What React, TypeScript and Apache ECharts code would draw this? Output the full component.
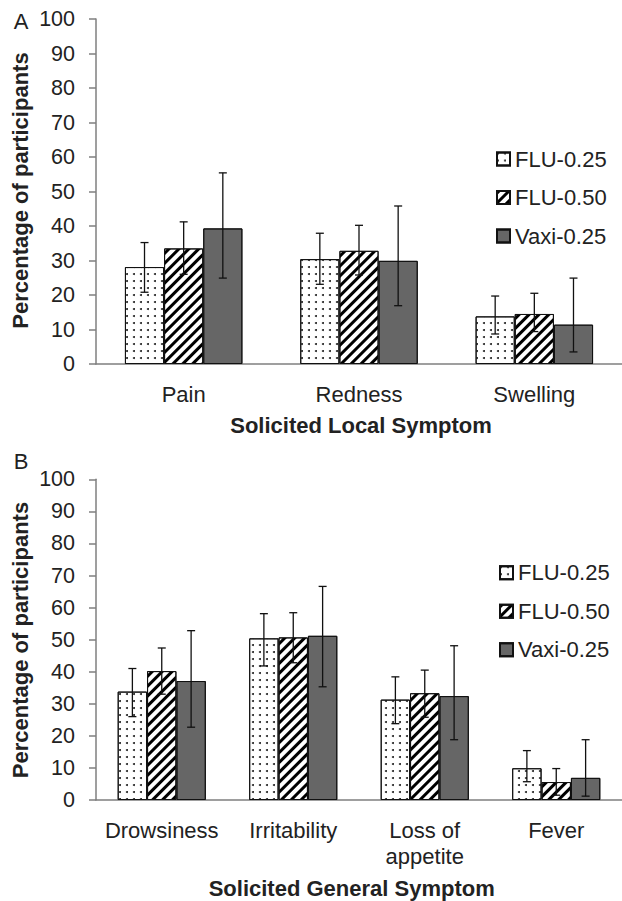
import React, { useEffect, useRef } from "react";
import * as echarts from "echarts";

const seriesNames = ["FLU-0.25", "FLU-0.50", "Vaxi-0.25"];

const categoriesA = ["Pain", "Redness", "Swelling"];
const flu025A = [28.1, 30.4, 13.8];
const flu050A = [33.5, 32.8, 14.5];
const vaxiA = [39.3, 29.9, 11.4];
const flu025ALow = [20.8, 23.1, 8.7];
const flu025AHigh = [35.2, 37.9, 19.7];
const flu050ALow = [26.0, 25.8, 9.4];
const flu050AHigh = [41.2, 40.2, 20.5];
const vaxiALow = [24.9, 16.9, 3.5];
const vaxiAHigh = [55.4, 45.8, 24.9];

const categoriesB = ["Drowsiness", "Irritability", "Loss of\nappetite", "Fever"];
const flu025B = [33.8, 50.4, 31.3, 9.9];
const flu050B = [40.2, 50.7, 33.3, 5.6];
const vaxiB = [37.1, 51.2, 32.4, 6.9];
const flu025BLow = [26.0, 41.8, 23.8, 5.7];
const flu025BHigh = [41.0, 58.1, 38.4, 15.4];
const flu050BLow = [33.0, 42.8, 25.8, 1.5];
const flu050BHigh = [47.4, 58.4, 40.5, 9.8];
const vaxiBLow = [22.7, 35.3, 18.8, 1.2];
const vaxiBHigh = [52.8, 66.6, 48.1, 18.8];

const yTicks = { min: 0, max: 100, interval: 10 };

const FONT = "'Liberation Sans', Arial, sans-serif";
const CAT_GAP = 0.33;

const dotDecal = {
  symbol: "circle",
  symbolSize: 1,
  color: "#222",
  dashArrayX: [1.4, 4.6],
  dashArrayY: [1.4, 4.6],
  rotation: 0,
};
const hatchDecal = {
  symbol: "rect",
  symbolSize: 1,
  color: "#000",
  dashArrayX: [1, 0],
  dashArrayY: [3, 3.4],
  rotation: -Math.PI / 4,
};

const barStyles = [
  { color: "#ffffff", borderColor: "#111", borderWidth: 1, decal: dotDecal },
  { color: "#ffffff", borderColor: "#111", borderWidth: 1, decal: hatchDecal },
  { color: "#666666", borderColor: "#111", borderWidth: 1, decal: { symbol: "none" } },
];

function barSeries(name: string, k: number, grid: number, data: number[]) {
  return {
    type: "bar",
    name,
    xAxisIndex: grid,
    yAxisIndex: grid,
    data,
    barGap: "0%",
    barCategoryGap: CAT_GAP * 100 + "%",
    itemStyle: barStyles[k],
    z: 2,
  };
}

function errSeries(k: number, grid: number, low: number[], high: number[]) {
  return {
    type: "custom",
    xAxisIndex: grid,
    yAxisIndex: grid,
    silent: true,
    z: 10,
    data: low.map((l, i) => [i, l, high[i]]),
    encode: { x: 0, y: [1, 2] },
    renderItem: (params: any, api: any) => {
      const i = api.value(0);
      const p1 = api.coord([i, api.value(1)]);
      const p2 = api.coord([i, api.value(2)]);
      const band = api.size([1, 0])[0];
      const bw = (band * (1 - CAT_GAP)) / 3;
      const x = p1[0] + (k - 1) * bw;
      const c = 4;
      const st = { stroke: "#111", lineWidth: 1.3 };
      return {
        type: "group",
        children: [
          { type: "line", shape: { x1: x, y1: p1[1], x2: x, y2: p2[1] }, style: st },
          { type: "line", shape: { x1: x - c, y1: p1[1], x2: x + c, y2: p1[1] }, style: st },
          { type: "line", shape: { x1: x - c, y1: p2[1], x2: x + c, y2: p2[1] }, style: st },
        ],
      };
    },
  };
}

function xAxisOf(grid: number, cats: string[]) {
  return {
    type: "category",
    gridIndex: grid,
    data: cats,
    axisLine: { show: true, lineStyle: { color: "#7f7f7f", width: 1.5 } },
    axisTick: { show: false },
    axisLabel: { fontSize: 22, lineHeight: 26, color: "#222", fontFamily: FONT, margin: 17, interval: 0 },
    splitLine: { show: false },
  };
}

function yAxisOf(grid: number) {
  return {
    type: "value",
    gridIndex: grid,
    min: yTicks.min,
    max: yTicks.max,
    interval: yTicks.interval,
    axisLine: { show: true, lineStyle: { color: "#7f7f7f", width: 1.5 } },
    axisTick: { show: true, length: 7, lineStyle: { color: "#7f7f7f", width: 1.5 } },
    axisLabel: { fontSize: 21.5, color: "#222", fontFamily: FONT, margin: 21 },
    splitLine: { show: false },
  };
}

function legendOf(left: number, top: number) {
  return {
    orient: "vertical",
    left,
    top,
    itemWidth: 13,
    itemHeight: 13,
    itemGap: 16.5,
    icon: "rect",
    textStyle: { fontSize: 22, lineHeight: 22, color: "#222", fontFamily: FONT },
    data: seriesNames,
    selectedMode: false,
  };
}

export default function App() {
  const ref = useRef<HTMLDivElement>(null);
  useEffect(() => {
    if (!ref.current) return;
    const chart = echarts.init(ref.current, undefined, { renderer: "svg" });
    const option: any = {
      animation: false,
      backgroundColor: "#ffffff",
      textStyle: { fontFamily: FONT },
      grid: [
        { left: 96, top: 19, width: 531, height: 345 },
        { left: 96, top: 479.3, width: 531, height: 320.7 },
      ],
      xAxis: [xAxisOf(0, categoriesA), xAxisOf(1, categoriesB)],
      yAxis: [yAxisOf(0), yAxisOf(1)],
      legend: [legendOf(491, 143), legendOf(494, 556.7)],
      series: [
        barSeries(seriesNames[0], 0, 0, flu025A),
        barSeries(seriesNames[1], 1, 0, flu050A),
        barSeries(seriesNames[2], 2, 0, vaxiA),
        barSeries(seriesNames[0], 0, 1, flu025B),
        barSeries(seriesNames[1], 1, 1, flu050B),
        barSeries(seriesNames[2], 2, 1, vaxiB),
        errSeries(0, 0, flu025ALow, flu025AHigh),
        errSeries(1, 0, flu050ALow, flu050AHigh),
        errSeries(2, 0, vaxiALow, vaxiAHigh),
        errSeries(0, 1, flu025BLow, flu025BHigh),
        errSeries(1, 1, flu050BLow, flu050BHigh),
        errSeries(2, 1, vaxiBLow, vaxiBHigh),
      ],
      graphic: [
        { type: "text", x: 21, y: 21, style: { text: "A", fontSize: 22, fontFamily: FONT, fill: "#222", align: "center", verticalAlign: "middle" } },
        { type: "text", x: 21, y: 461, style: { text: "B", fontSize: 22, fontFamily: FONT, fill: "#222", align: "center", verticalAlign: "middle" } },
        { type: "text", x: 20, y: 190.5, rotation: Math.PI / 2, style: { text: "Percentage of participants", fontSize: 22, fontWeight: "bold", fontFamily: FONT, fill: "#222", align: "center", verticalAlign: "middle" } },
        { type: "text", x: 20, y: 640, rotation: Math.PI / 2, style: { text: "Percentage of participants", fontSize: 22, fontWeight: "bold", fontFamily: FONT, fill: "#222", align: "center", verticalAlign: "middle" } },
        { type: "text", x: 361, y: 425, style: { text: "Solicited Local Symptom", fontSize: 22, fontWeight: "bold", fontFamily: FONT, fill: "#222", align: "center", verticalAlign: "middle" } },
        { type: "text", x: 351.7, y: 888, style: { text: "Solicited General Symptom", fontSize: 22, fontWeight: "bold", fontFamily: FONT, fill: "#222", align: "center", verticalAlign: "middle" } },
      ],
    };
    chart.setOption(option);
    return () => chart.dispose();
  }, []);
  return (
    <div
      ref={ref}
      style={{ position: "absolute", left: 0, top: 0, width: 622, height: 901, background: "#fff" }}
    />
  );
}
